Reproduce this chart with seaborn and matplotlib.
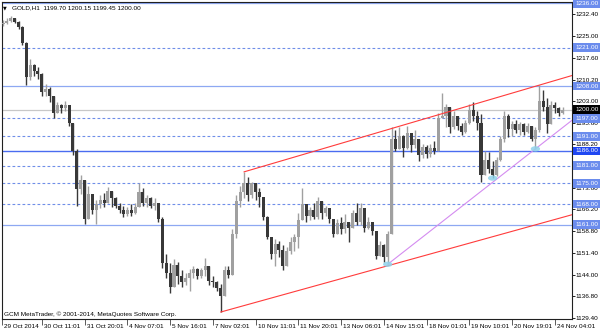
import matplotlib
matplotlib.use("Agg")
import matplotlib.pyplot as plt
import matplotlib.transforms as mtransforms
from matplotlib.patches import Ellipse
import numpy as np
import pandas as pd
import seaborn as sns

# ---------------- data ----------------
first_open = 1229.0
closes = [
    1229.5, 1230.2, 1231.0, 1229.8, 1228.0, 1222.5, 1211.0, 1215.0, 1213.0, 1212.0, 1206.0,
    1207.0, 1204.5, 1199.0, 1201.5, 1200.5, 1201.5, 1195.5, 1186.0, 1173.0, 1176.0,
    1163.0, 1171.5, 1166.0, 1168.0, 1169.5, 1168.5, 1172.5, 1170.0, 1167.5, 1166.0,
    1164.5, 1166.0, 1165.0, 1167.0, 1172.0, 1168.5, 1170.0, 1167.5, 1168.5, 1163.0,
    1148.0, 1144.5, 1140.0, 1147.5, 1143.5, 1141.5, 1143.0, 1144.5, 1146.0, 1143.5,
    1145.5, 1147.0, 1142.0, 1141.5, 1139.5, 1137.0, 1145.5, 1144.0, 1158.0, 1169.0,
    1172.0, 1175.0, 1171.0, 1175.0, 1172.0, 1170.5, 1163.5, 1157.0, 1151.0, 1154.5,
    1152.5, 1147.0, 1152.0, 1155.0, 1157.0, 1162.5, 1168.0, 1164.0, 1166.0, 1163.5,
    1169.0, 1165.0, 1166.5, 1163.0, 1158.0, 1161.5, 1159.5, 1162.0, 1160.0, 1165.0,
    1162.0, 1166.5, 1160.0, 1162.0, 1159.0, 1150.5, 1154.0, 1150.0, 1158.0, 1190.0,
    1186.5, 1191.0, 1187.0, 1192.0, 1188.0, 1190.0, 1184.5, 1187.5, 1185.0, 1187.0,
    1186.0, 1197.0, 1198.0, 1201.0, 1194.0, 1198.0, 1194.5, 1192.5, 1195.5, 1200.0,
    1198.0, 1195.5, 1178.0, 1183.0, 1180.0, 1178.0, 1183.0, 1190.0, 1198.0, 1193.5,
    1195.0, 1193.0, 1195.0, 1192.5, 1194.5, 1190.0, 1193.0, 1203.0, 1201.0, 1195.0,
    1201.5, 1200.5, 1199.0, 1200.0,
]
highs = [
    1230.5, 1231.0, 1231.8, 1231.2, 1230.0, 1228.5, 1223.0, 1217.0, 1215.5, 1214.5, 1212.5,
    1208.8, 1207.5, 1204.0, 1202.5, 1202.0, 1203.0, 1200.0, 1195.0, 1186.5, 1178.0,
    1170.0, 1174.0, 1170.0, 1169.5, 1171.0, 1171.8, 1173.8, 1172.0, 1170.5, 1168.5,
    1167.5, 1167.0, 1168.0, 1168.5, 1175.0, 1173.5, 1171.0, 1170.5, 1170.0, 1167.5,
    1163.5, 1151.0, 1148.0, 1149.5, 1148.5, 1145.5, 1144.5, 1146.0, 1147.0, 1146.5,
    1146.5, 1149.7, 1146.0, 1143.5, 1142.0, 1141.0, 1147.0, 1147.0, 1159.5, 1171.0,
    1174.0, 1178.9, 1177.0, 1175.5, 1174.0, 1173.5, 1168.5, 1164.0, 1157.0, 1156.0,
    1155.5, 1154.0, 1153.5, 1157.0, 1158.0, 1165.0, 1173.4, 1167.5, 1167.0, 1168.5,
    1170.5, 1167.0, 1167.5, 1166.0, 1162.5, 1163.0, 1163.5, 1164.5, 1162.0, 1166.0,
    1168.3, 1168.4, 1163.0, 1163.5, 1161.5, 1157.5, 1155.5, 1154.5, 1159.0, 1194.0,
    1193.0, 1194.0, 1191.5, 1194.3, 1192.0, 1193.0, 1190.0, 1188.5, 1188.0, 1188.5,
    1189.5, 1199.0, 1205.6, 1202.0, 1199.0, 1199.5, 1197.0, 1195.5, 1196.5, 1202.0,
    1202.6, 1199.5, 1198.5, 1186.0, 1185.5, 1182.5, 1184.0, 1191.0, 1199.5, 1198.5,
    1196.0, 1196.5, 1195.8, 1195.5, 1195.5, 1194.5, 1194.0, 1208.3, 1206.8, 1204.0,
    1203.0, 1202.5, 1201.0, 1201.0,
]
lows = [
    1228.5, 1229.0, 1229.8, 1229.2, 1227.2, 1221.8, 1208.5, 1210.0, 1211.5, 1210.5, 1204.5,
    1204.5, 1202.5, 1197.2, 1199.0, 1198.8, 1199.5, 1194.5, 1184.5, 1167.5, 1171.5,
    1161.3, 1166.0, 1164.5, 1161.2, 1166.5, 1167.0, 1169.0, 1167.0, 1166.5, 1165.0,
    1163.5, 1164.0, 1163.8, 1164.5, 1167.5, 1167.5, 1167.0, 1166.5, 1166.0, 1162.0,
    1146.5, 1143.0, 1137.9, 1141.5, 1141.0, 1140.0, 1140.5, 1138.5, 1143.0, 1142.5,
    1143.0, 1143.5, 1140.5, 1140.0, 1138.5, 1131.4, 1137.0, 1143.0, 1144.5, 1156.5,
    1167.0, 1170.0, 1169.0, 1170.0, 1169.5, 1167.0, 1162.5, 1156.0, 1149.5, 1147.0,
    1150.0, 1145.6, 1147.0, 1151.0, 1152.0, 1153.0, 1162.5, 1161.8, 1162.5, 1163.0,
    1163.0, 1162.8, 1164.0, 1161.5, 1157.0, 1158.0, 1158.0, 1158.2, 1155.0, 1160.0,
    1161.0, 1161.0, 1158.5, 1159.5, 1157.5, 1149.5, 1150.5, 1148.5, 1147.6, 1158.0,
    1186.0, 1187.0, 1184.0, 1186.5, 1185.5, 1187.0, 1182.5, 1183.5, 1183.5, 1184.0,
    1185.0, 1186.0, 1197.5, 1194.0, 1192.0, 1193.5, 1193.0, 1191.5, 1192.0, 1195.0,
    1196.0, 1193.0, 1175.5, 1179.0, 1178.5, 1176.8, 1177.5, 1182.5, 1189.0, 1190.8,
    1191.0, 1192.0, 1191.5, 1191.3, 1192.0, 1189.5, 1186.7, 1192.5, 1199.5, 1192.0,
    1198.0, 1199.0, 1198.0, 1198.5,
]

# horizontal levels
dashed_levels = [1221.0, 1197.0, 1191.0, 1181.0, 1175.0, 1168.0]
light_levels = [1236.0, 1208.0, 1161.0]
strong_level = 1186.0
bid_price = 1200.00

# trend lines (bar index, price) anchor pairs
upper_red = ([62, 138], [1178.9, 1208.3])
lower_red = ([56, 144], [1131.4, 1163.5])
support_line = ([99, 137], [1147.6, 1186.7])
touch_idx = [99, 126, 137]
touch_price = [1147.6, 1176.8, 1186.7]

y_ticks = [1232.40, 1225.00, 1217.60, 1210.20, 1203.00, 1195.60, 1188.20, 1180.80,
           1173.60, 1166.20, 1158.80, 1151.40, 1144.00, 1136.80, 1129.40]
x_tick_pos = [-0.25, 10, 21, 32, 43, 54, 65, 76, 87, 98, 109, 120, 131, 142]
x_tick_labels = ["29 Oct 2014", "30 Oct 11:01", "31 Oct 20:01", "4 Nov 07:01",
                 "5 Nov 16:01", "7 Nov 02:01", "10 Nov 11:01", "11 Nov 20:01",
                 "13 Nov 06:01", "14 Nov 15:01", "18 Nov 01:01", "19 Nov 10:01",
                 "20 Nov 19:01", "24 Nov 04:01"]
header = "GOLD,H1  1199.70 1200.15 1199.45 1200.00"
copyright_txt = "GCM MetaTrader, \u00a9 2001-2014, MetaQuotes Software Corp."

# ---------------- build table ----------------
assert len(closes) == len(highs) == len(lows)
df = pd.DataFrame({"close": closes, "high": highs, "low": lows})
df["idx"] = np.arange(len(df))
df["open"] = [first_open] + closes[:-1]
df["high"] = df[["high", "open", "close"]].max(axis=1)
df["low"] = df[["low", "open", "close"]].min(axis=1)
df["up"] = df["close"] >= df["open"]

# ---------------- style ----------------
sns.set_theme(style="white")
plt.rcParams["font.family"] = ["Liberation Sans", "DejaVu Sans"]
FS = 4.6

fig = plt.figure(figsize=(6.0, 3.33), dpi=100)
W, H = 600, 333
ax = fig.add_axes([2 / W, 14 / H, 570 / W, 317 / H])
ax.set_facecolor("white")

XL = (-0.257, 146.42)
YL = (1129.05, 1236.47)
ax.set_xlim(*XL)
ax.set_ylim(*YL)

# levels
dash_col = "#6f8ee8"
for lv in dashed_levels:
    ax.axhline(lv, color=dash_col, lw=0.8, ls=(0, (2.5, 2)), zorder=1)
for lv in light_levels:
    ax.axhline(lv, color="#8ea8f2", lw=0.9, zorder=1)
ax.axhline(strong_level, color="#4a6cf0", lw=1.0, zorder=1)
ax.axhline(bid_price, color="#c8c8c8", lw=0.9, zorder=1)

# candles
up_col, dn_col = "#a0a0a0", "#383838"
cols = np.where(df["up"], up_col, dn_col)
ax.vlines(df["idx"], df["low"], df["high"], colors=cols, lw=1.0, zorder=3)
body_bottom = df[["open", "close"]].min(axis=1)
body_h = (df["close"] - df["open"]).abs().clip(lower=0.4)
ax.bar(df["idx"], body_h, bottom=body_bottom, width=0.78, color=cols,
       linewidth=0, zorder=3)

# trend rays (extended to the right edge)
def ray(anchor):
    xs, ys = anchor
    slope = (ys[1] - ys[0]) / (xs[1] - xs[0])
    x_end = XL[1]
    return pd.DataFrame({"x": [xs[0], x_end],
                         "y": [ys[0], ys[0] + slope * (x_end - xs[0])]})

sns.lineplot(data=ray(upper_red), x="x", y="y", ax=ax, color="#ff3b3b", lw=0.8, zorder=4)
sns.lineplot(data=ray(lower_red), x="x", y="y", ax=ax, color="#ff3b3b", lw=0.8, zorder=4)
sns.lineplot(data=ray(support_line), x="x", y="y", ax=ax, color="#d48cf0", lw=0.8, zorder=4)

for xi, yi in zip(touch_idx, touch_price):
    ax.add_patch(Ellipse((xi, yi), width=2.4, height=1.8, color="#8fd3ea",
                         alpha=0.85, lw=0, zorder=5))

ax.set_xlabel("")
ax.set_ylabel("")

# spines
for s in ax.spines.values():
    s.set_color("#202020")
    s.set_linewidth(0.8)

# y axis on right
ax.yaxis.tick_right()
ax.set_yticks(y_ticks)
ax.set_yticklabels([f"{v:.2f}" for v in y_ticks])
ax.tick_params(axis="y", which="both", right=True, left=False, direction="out",
               length=1.8, width=0.6, pad=0.8, labelsize=FS, colors="#000000")

# x axis ticks (labels drawn beside ticks, MetaTrader style)
ax.set_xticks(x_tick_pos)
ax.set_xticklabels([])
ax.tick_params(axis="x", which="both", bottom=True, direction="out",
               length=4.5, width=0.6, colors="#404040")
xlab_tr = mtransforms.blended_transform_factory(ax.transData, ax.transAxes) + \
    mtransforms.ScaledTranslation(2 / 100, 0, fig.dpi_scale_trans)
for p, lab in zip(x_tick_pos, x_tick_labels):
    ax.text(p, -7 / 317, lab, transform=xlab_tr, ha="left", va="center",
            fontsize=FS, color="black", clip_on=False)

# level price boxes on the right
box_tr = mtransforms.blended_transform_factory(ax.transAxes, ax.transData) + \
    mtransforms.ScaledTranslation(3 / 100, 0, fig.dpi_scale_trans)

def price_box(v, fc, tc="white"):
    ax.text(1.0, v, f"{v:.2f}", transform=box_tr, ha="left", va="center",
            fontsize=FS, color=tc, clip_on=False, zorder=10,
            bbox=dict(boxstyle="square,pad=0.3", fc=fc, ec="none"))

for lv in dashed_levels + light_levels:
    price_box(lv, "#6b8ced")
price_box(strong_level, "#1f47f2")
price_box(bid_price, "#000000")

# header and copyright
fig.text(3 / W, 1 - 8 / H, "\u25bc", fontsize=3.5, color="black", va="center",
         family="DejaVu Sans")
fig.text(12 / W, 1 - 8 / H, header, fontsize=FS, color="black", va="center")
fig.text(4 / W, 1 - 314 / H, copyright_txt, fontsize=FS, color="black", va="center")

fig.savefig("out.png", dpi=100, facecolor="white")
